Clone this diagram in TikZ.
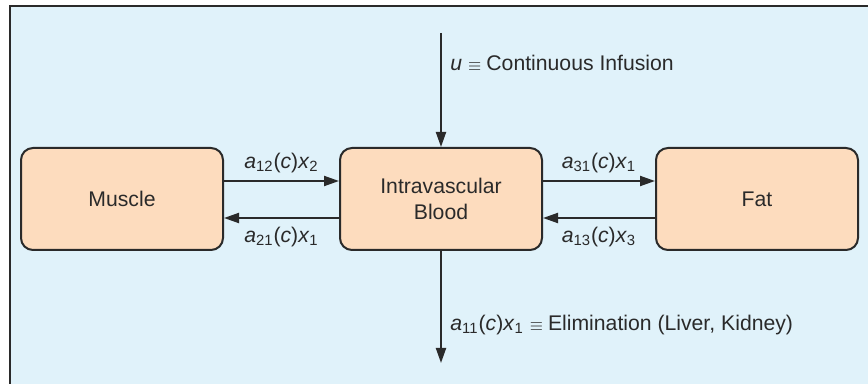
\documentclass[tikz,border=0pt]{standalone}
\usepackage{fontspec}
\setmainfont{Liberation Sans}
\usetikzlibrary{arrows.meta,positioning}
\definecolor{panelblue}{HTML}{E0F2FA}
\definecolor{boxpeach}{HTML}{FDDCBE}
\definecolor{inkgray}{HTML}{2A2A2A}
\tikzset{
  compart/.style={draw=inkgray, line width=1pt, fill=boxpeach, rounded corners=6pt,
    minimum width=101pt, minimum height=51pt, align=center, text=inkgray,
    font=\fontsize{10.6}{12.6}\selectfont},
  flow/.style={draw=inkgray, line width=1pt, -{Triangle[length=7.5pt,width=5pt]}},
  rate/.style={text=inkgray, inner sep=0pt, font=\fontsize{10.6}{12.6}\selectfont}
}
\newcommand{\kin}[2]{\textit{a}\textsubscript{#1}(\textit{c})\textit{x}\textsubscript{#2}}
\newcommand{\eqv}{\hspace{3pt}{\fontsize{8}{8}\selectfont$\equiv$}\hspace{2.5pt}}

\begin{document}
\begin{tikzpicture}[x=0.5pt,y=-0.5pt]
\useasboundingbox (0,0) rectangle (868,384);
\fill[panelblue] (10,6) rectangle (868,384);
\draw[inkgray, line width=1pt] (10,384) -- (10,6) -- (868,6);
% compartments
\node[compart] (blood) at (441,199) {Intravascular\\Blood};
\node[compart, left=57.5pt of blood] (muscle) {Muscle};
\node[compart, right=56pt of blood] (fat) {Fat};
\coordinate (infuse) at (441,33);
\coordinate (elim) at (441,363);
% exchange between compartments
\draw[flow] ([yshift=9pt]muscle.east) -- node[rate, above=3.5pt] {\kin{12}{2}} ([yshift=9pt]blood.west);
\draw[flow] ([yshift=-9.5pt]blood.west) -- node[rate, below=4pt] {\kin{21}{1}} ([yshift=-9.5pt]muscle.east);
\draw[flow] ([yshift=9pt]blood.east) -- node[rate, above=3.5pt] {\kin{31}{1}} ([yshift=9pt]fat.west);
\draw[flow] ([yshift=-9.5pt]fat.west) -- node[rate, below=4pt] {\kin{13}{3}} ([yshift=-9.5pt]blood.east);
% input and output
\draw[flow] (infuse) -- (blood.north);
\draw[flow] (blood.south) -- (elim);
\node[rate, anchor=west] (inflabel) at (450,63) {\textit{u}\eqv Continuous Infusion};
\node[rate, anchor=west] (elimlabel) at (450,325) {\kin{11}{1}\eqv Elimination (Liver, Kidney)};
\end{tikzpicture}
\end{document}
